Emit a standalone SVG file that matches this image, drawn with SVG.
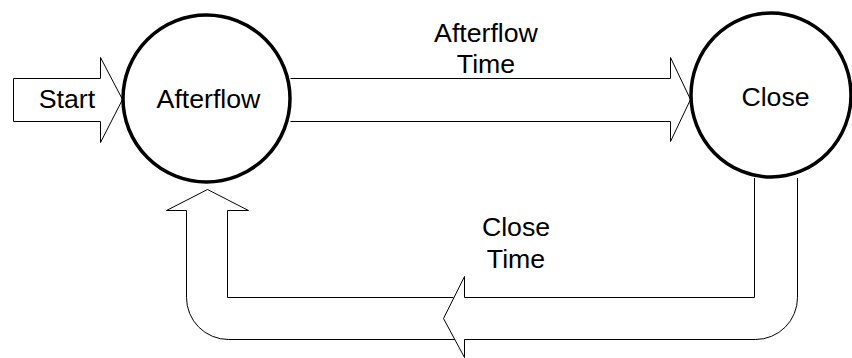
<svg xmlns="http://www.w3.org/2000/svg" width="852" height="358" viewBox="0 0 852 358">
<style>
.state{fill:#fff;stroke:#000;stroke-width:3.5}
.arrow{fill:#fff;stroke:#000;stroke-width:1;stroke-linejoin:miter}
.label{font-family:"Liberation Sans",Arial,sans-serif;font-size:26.7px;fill:#000;text-anchor:middle}
</style>
<rect width="852" height="358" fill="#fff"/>
<g id="connectors">
  <g id="start-arrow">
    <path class="arrow" d="M13.5 78.5 H100.5 V57.5 L122.5 99.5 L100.5 142.5 V121.5 H13.5 Z"/>
    <text class="label" x="67" y="107.5">Start</text>
  </g>
  <g id="afterflow-time">
    <path class="arrow" d="M290.5 78.5 H670.5 V57.5 L690.5 99.5 L670.5 141.5 V121.5 H290.5"/>
    <text class="label" x="486" y="42">Afterflow</text>
    <text class="label" x="486" y="73">Time</text>
  </g>
  <g id="close-time">
    <path class="arrow" d="M453.5 297.5 H227.5 V210.5 H248.5 L207.5 189.5 L166.5 210.5 H186.5 V297.5 A42 42 0 0 0 228.5 339.5 H517.5"/>
    <path class="arrow" d="M754.5 178 V297.5 H464.5 V276.5 L443.5 318.5 L464.5 357.5 V339.5 H755.5 A42 42 0 0 0 797.5 297.5 V178"/>
    <text class="label" x="516" y="236">Close</text>
    <text class="label" x="516" y="268">Time</text>
  </g>
</g>
<g id="afterflow">
  <circle class="state" cx="206.5" cy="98.5" r="83.5"/>
  <text class="label" x="208.5" y="108">Afterflow</text>
</g>
<g id="close">
  <ellipse class="state" cx="771" cy="95" rx="80" ry="82"/>
  <text class="label" x="775.5" y="106">Close</text>
</g>
</svg>
